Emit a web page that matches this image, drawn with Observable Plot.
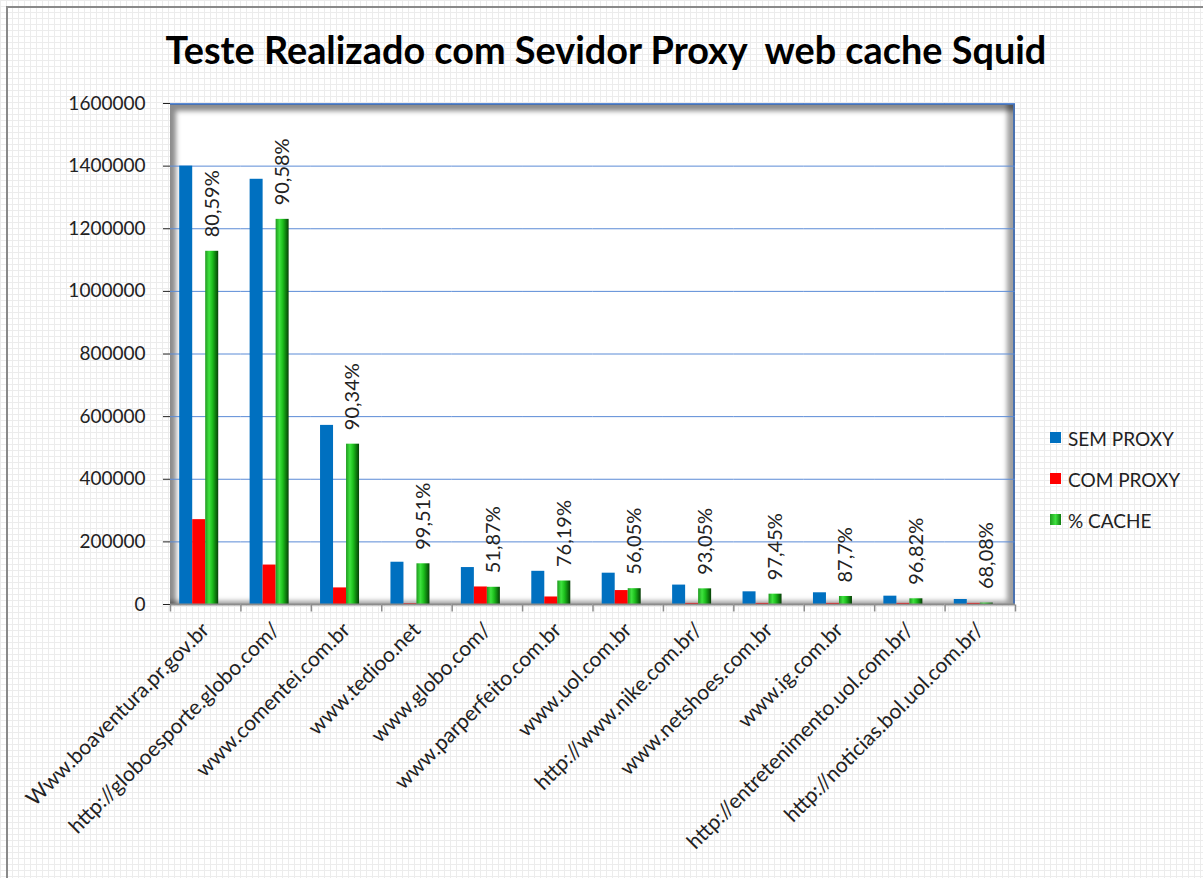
<!DOCTYPE html>
<html>
<head>
<meta charset="utf-8">
<script src="https://cdn.jsdelivr.net/npm/d3@7"></script>
<script src="https://cdn.jsdelivr.net/npm/@observablehq/plot@0.6"></script>
<style>
  html, body { margin: 0; padding: 0; }
  body {
    width: 1203px; height: 878px; overflow: hidden; position: relative;
    font-family: Lato, "Open Sans", sans-serif;
    background-color: #fff;
    background-image:
      linear-gradient(to right, #ececec 1px, transparent 1px),
      linear-gradient(to bottom, #ececec 1px, transparent 1px);
    background-size: 6px 6px;
  }
  #border { position: absolute; left: 6px; top: 6px; right: -10px; bottom: -10px;
    border-left: 2px solid #8a8a8a; border-top: 2px solid #8a8a8a; }
  #title { position: absolute; left: 0; top: 6px; width: 1203px; height: 86px;
    display: flex; align-items: center; justify-content: center; }
  #title span { font-weight: 700; font-size: 39px; color: #000; display: inline-block;
    transform: scaleX(0.97); transform-origin: center; margin-left: 8px; }
  #plotbg { position: absolute; left: 170px; top: 103px; width: 845px; height: 501px;
    background: #fff;
    border-top: 2px solid #4a72b0; border-right: 2px solid #4a72b0; box-sizing: border-box;
    box-shadow: inset 9px 9px 5px -3px rgba(0,0,0,0.45), inset -9px -6px 5px -3px rgba(0,0,0,0.38); }
  #chart { position: absolute; left: 0; top: 80px; }
  #legend { position: absolute; left: 1050px; top: 427px; font-size: 19px; color: #222; }
  #legend div { height: 41px; display: flex; align-items: flex-start; }
  #legend i { display: inline-block; width: 11px; height: 11px; margin: 5px 7px 0 0; }
</style>
</head>
<body>
<div id="border"></div>
<div id="title"><span>Teste Realizado com Sevidor Proxy&nbsp; web cache Squid</span></div>
<div id="plotbg"></div>
<div id="chart"></div>
<div id="legend"></div>
<script>
const sites = ["Www.boaventura.pr.gov.br","http://globoesporte.globo.com/","www.comentei.com.br","www.tedioo.net","www.globo.com/","www.parperfeito.com.br","www.uol.com.br","http://www.nike.com.br/","www.netshoes.com.br","www.ig.com.br","http://entretenimento.uol.com.br/","http://noticias.bol.uol.com.br/"];
const semProxy = [1400000, 1358000, 572000, 135000, 118000, 106000, 100000, 62000, 40500, 37400, 26600, 16000];
const comProxy = [271000, 126000, 53000, 2500, 56000, 24000, 44500, 3500, 3500, 3500, 3500, 3500];
const cache = [1128000, 1230000, 512000, 130000, 55000, 75000, 50500, 50000, 33000, 25600, 18200, 4500];
const pctLabels = ["80,59%","90,58%","90,34%","99,51%","51,87%","76,19%","56,05%","93,05%","97,45%","87,7%","96,82%","68,08%"];
const seriesNames = ["SEM PROXY", "COM PROXY", "% CACHE"];
const seriesColors = ["#0070c0", "#ff0000", "url(#gCache)"];
const yTicks = [0, 200000, 400000, 600000, 800000, 1000000, 1200000, 1400000, 1600000];

const rows = [];
sites.forEach((s, i) => {
  rows.push({site: s, series: seriesNames[0], value: semProxy[i]});
  rows.push({site: s, series: seriesNames[1], value: comProxy[i]});
  rows.push({site: s, series: seriesNames[2], value: cache[i]});
});
const labels = sites.map((s, i) => ({site: s, series: seriesNames[2], value: cache[i], text: pctLabels[i]}));

const tickSymbol = {draw(ctx) { ctx.moveTo(0, 0); ctx.lineTo(0, 7); }};

const chart = Plot.plot({
  width: 1203,
  height: 798,
  marginLeft: 170,
  marginRight: 188,
  marginTop: 23,
  marginBottom: 274,
  style: {fontFamily: "Lato, sans-serif", fontSize: "19px", color: "#222", background: "transparent", overflow: "visible"},
  fx: {domain: sites, padding: 0, round: false, label: null, tickSize: 0, tickPadding: 22, tickRotate: -45},
  x: {domain: [...seriesNames, "pct"], paddingInner: 0, paddingOuter: 0.708, round: false, axis: null},
  y: {domain: [0, 1600000], ticks: yTicks, tickFormat: d3.format("d"), tickSize: 7, tickPadding: 18, label: null},
  color: {domain: seriesNames, range: seriesColors},
  marks: [
    Plot.ruleY(yTicks.slice(1), {stroke: "#5b8bd6", strokeWidth: 1}),
    Plot.barY(rows, {fx: "site", x: "series", y: "value", fill: "series"}),
    Plot.ruleY([0], {stroke: "#8c8c8c", strokeWidth: 2}),
    Plot.dot([0], {frameAnchor: "bottom-left", symbol: tickSymbol, stroke: "#8c8c8c", fill: "none"}),
    Plot.dot([{site: sites[sites.length - 1]}], {fx: "site", frameAnchor: "bottom-right", symbol: tickSymbol, stroke: "#8c8c8c", fill: "none"}),
    Plot.text(labels, {fx: "site", x: "series", y: "value", text: "text", rotate: -90, textAnchor: "start", dy: -14, fontSize: 20, fill: "#222"})
  ]
});

const svg = d3.select(chart);
const defs = svg.insert("defs", ":first-child");
const g = defs.append("linearGradient").attr("id", "gCache").attr("x1", "0").attr("x2", "1").attr("y1", "0").attr("y2", "0");
[[0, "#1f9a1f"], [0.3, "#3fe23f"], [0.55, "#1cbf1c"], [0.8, "#0d7a0d"], [1, "#073f07"]].forEach(([o, c]) =>
  g.append("stop").attr("offset", o).attr("stop-color", c));

// styling tweaks of axes
svg.selectAll('g[aria-label^="fx-axis"]').attr("font-size", 21);
svg.selectAll('g[aria-label="fx-axis tick label"] text, g[aria-label="fx-axis"] text').attr("font-size", 21);
svg.selectAll('g[aria-label="y-axis tick"]').attr("stroke", "#8c8c8c");

document.getElementById("chart").appendChild(chart);

const legend = document.getElementById("legend");
seriesNames.forEach((n, i) => {
  const row = document.createElement("div");
  const sw = document.createElement("i");
  sw.style.background = i === 2 ? "linear-gradient(to right, #1f9a1f, #3fe23f, #0d7a0d)" : seriesColors[i];
  row.appendChild(sw);
  row.appendChild(document.createTextNode(n));
  legend.appendChild(row);
});
</script>
</body>
</html>
